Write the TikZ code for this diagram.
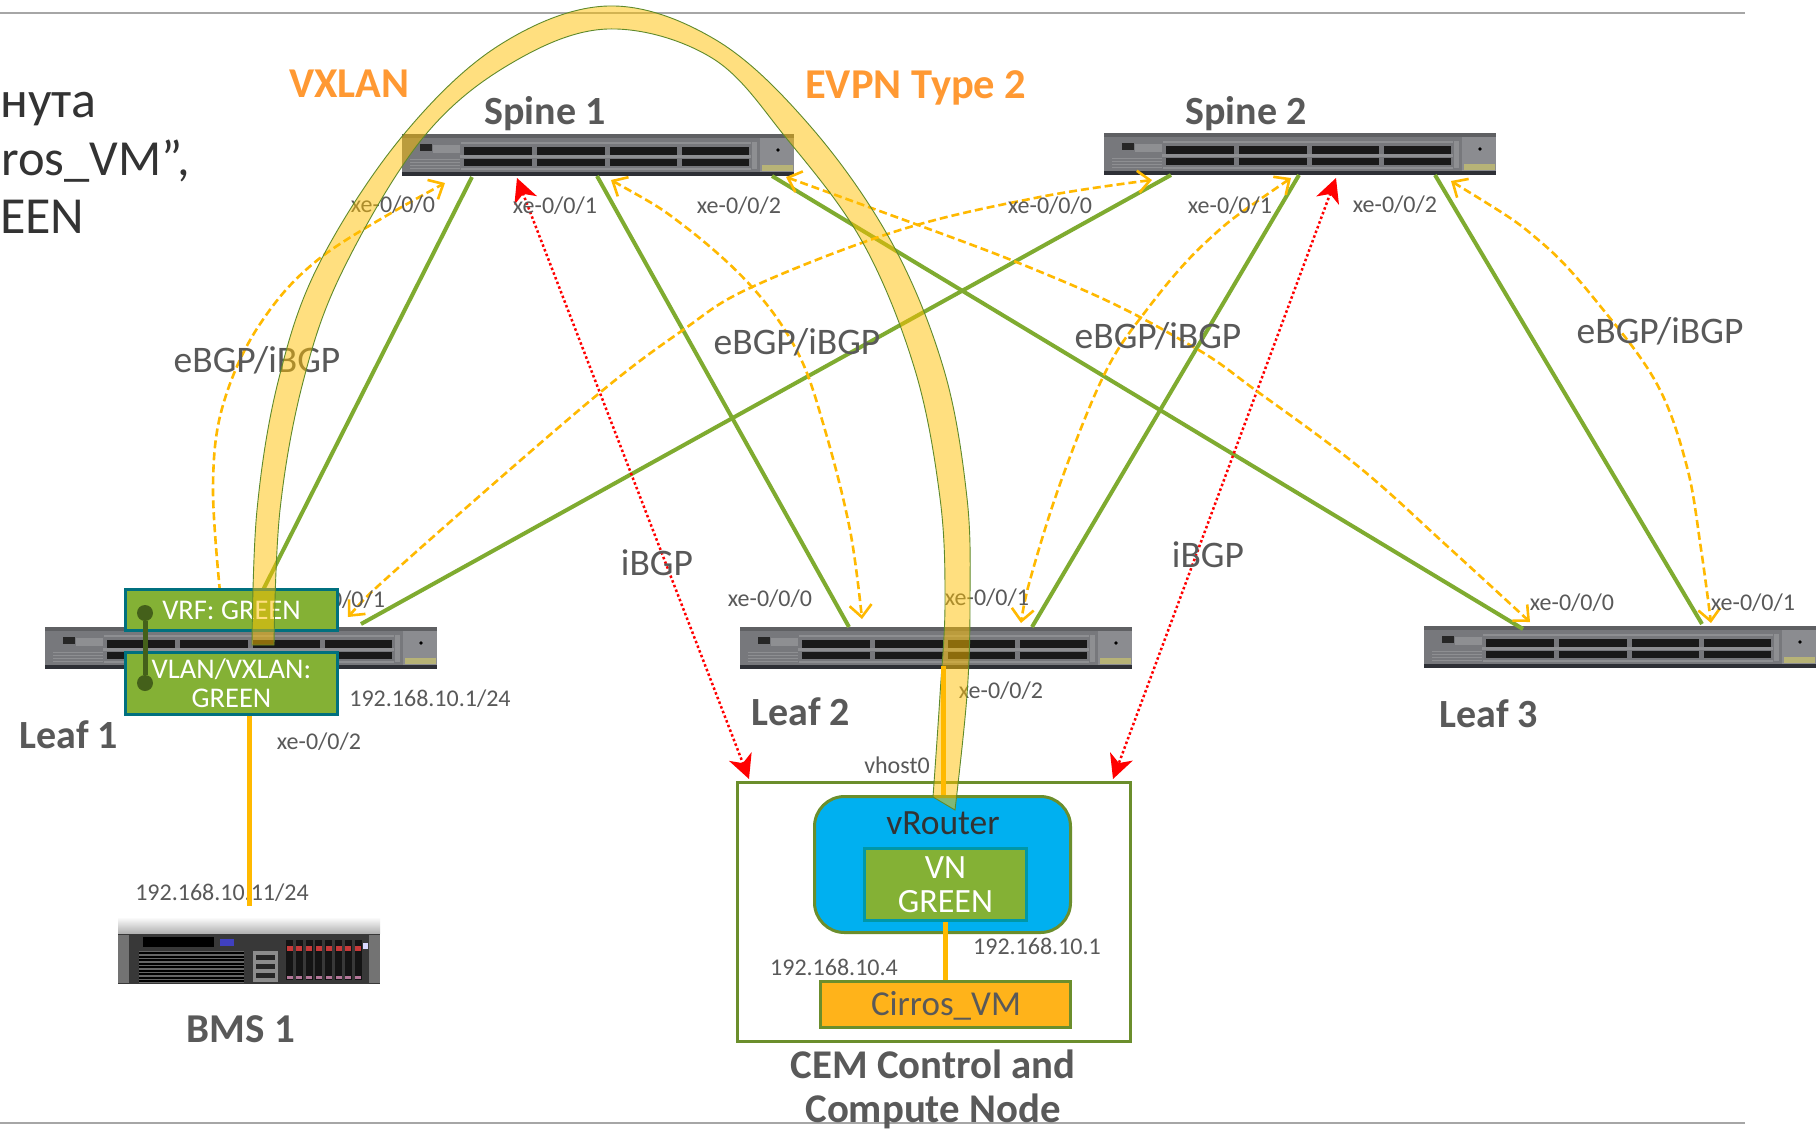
\documentclass[tikz,border=0pt]{standalone}
\usepackage{fontspec}
\setmainfont{Carlito}
\usetikzlibrary{arrows.meta,shapes.misc}
\definecolor{txtgray}{HTML}{595959}
\definecolor{txtdark}{HTML}{333333}
\definecolor{vorange}{HTML}{FF9933}
\definecolor{linkgreen}{HTML}{7FAB30}
\definecolor{boxgreen}{HTML}{84B135}
\definecolor{boxteal}{HTML}{00707F}
\definecolor{vnteal}{HTML}{0097A7}
\definecolor{olivegreen}{HTML}{6B8E2C}
\definecolor{dashgold}{HTML}{FFB900}
\definecolor{bandfill}{HTML}{FFC000}
\definecolor{bandedge}{HTML}{5F8A2B}
\definecolor{vrblue}{HTML}{00B0F0}
\definecolor{vmorange}{HTML}{FFB31A}
\definecolor{dotgreen}{HTML}{44601A}
\definecolor{swbody}{HTML}{77787C}
\definecolor{swstrip}{HTML}{8E8F92}
\definecolor{swbase}{HTML}{2E3036}
\newcommand{\swdetail}[2]{%
\begin{scope}[shift={(#1,#2)}]
 \fill[swbody!80!black] (0,0) rectangle (392,4);
 \fill[swbase] (0,38) rectangle (392,42);
 \fill[black!85] (18,10) rectangle (30,17);
 \fill[swstrip] (31,11) rectangle (58,19);
 \foreach \yy in {25,28,31,34}{\fill[swstrip] (8,\yy) rectangle (58,\yy+1.4);}
 \foreach \xa/\xb in {62/130,135/203,208/275,280/347}{
  \fill[black!90] (\xa,13) rectangle (\xb,20.5);
  \fill[black!90] (\xa,24.5) rectangle (\xb,32);
  \fill[swstrip] (\xa-4,21) rectangle (\xb+2,24);
  \fill[swstrip] (\xa-3,8) rectangle (\xb+2,10);
  \fill[swstrip] (\xa-3,33.5) rectangle (\xb+2,35.5);
 }
 \fill[swstrip] (350,8) rectangle (355,35);
 \fill[swbody!85!white] (358,4) rectangle (392,38);
 \fill[black] (376,16) circle (1.8);
 \fill[yellow!35!gray] (360,31) rectangle (391,37);
\end{scope}}
\tikzset{
 x=1pt,y=-1pt,
 switchbox/.style={anchor=north west,minimum width=392pt,minimum height=42pt,inner sep=0pt,fill=swbody},
 lab/.style={inner sep=0pt,text=txtgray,align=center,font=\fontsize{24}{28}\selectfont},
 biglab/.style={inner sep=0pt,text=txtgray,align=center,font=\fontsize{37.5}{44}\selectfont},
 titlelab/.style={inner sep=0pt,text=txtgray,align=center,font=\fontsize{40}{44}\selectfont\bfseries},
 orangelab/.style={inner sep=0pt,text=vorange,anchor=base west,font=\fontsize{42.5}{48}\selectfont\bfseries},
 headlab/.style={inner sep=0pt,text=txtdark,anchor=base west,font=\fontsize{52}{60}\selectfont},
 greenlink/.style={draw=linkgreen,line width=4pt},
 bgp/.style={draw=dashgold,line width=2.6pt,dash pattern=on 8pt off 4pt,-{Straight Barb[length=12pt,width=22pt]}},
 bgpb/.style={bgp,{Straight Barb[length=12pt,width=22pt]}-{Straight Barb[length=12pt,width=22pt]}},
 ibgp/.style={draw=red,line width=2.5pt,dash pattern=on 2.5pt off 2.5pt,
   {Stealth[length=24pt,width=24pt,inset=7pt]}-{Stealth[length=24pt,width=24pt,inset=7pt]}},
 greenbox/.style={draw=boxteal,line width=3pt,fill=boxgreen,text=white,inner sep=0pt,align=center,font=\fontsize{28.5}{29}\selectfont},
 goldlink/.style={draw=dashgold,line width=5pt},
 rule/.style={draw=gray!70,line width=1.5pt},
}
\begin{document}
\begin{tikzpicture}
\useasboundingbox (0,0) rectangle (1816,1128);
\fill[white] (0,0) rectangle (1816,1128);
\coordinate (ruleTL) at (0,13); \coordinate (ruleTR) at (1745,13);
\coordinate (ruleBL) at (0,1123); \coordinate (ruleBR) at (1745,1123);
\draw[rule] (ruleTL) -- (ruleTR);
\draw[rule] (ruleBL) -- (ruleBR);

% heading fragments
\node[headlab] (h1) at (0,117) {нута};
\node[headlab,font=\fontsize{50.5}{60}\selectfont] (h2) at (1,175) {ros\_VM”,};
\node[headlab] (h3) at (0,233) {EEN};
\node[orangelab] (vx) at (289,97) {VXLAN};
\node[orangelab] (ev) at (805,98) {EVPN Type 2};

% switches
\node[switchbox] (spine1) at (402,134) {}; \swdetail{402}{134}
\node[switchbox] (spine2) at (1104,133) {}; \swdetail{1104}{133}
\node[switchbox] (leaf1) at (45,627) {}; \swdetail{45}{627}
\node[switchbox] (leaf2) at (740,627) {}; \swdetail{740}{627}
\node[switchbox] (leaf3) at (1424,626) {}; \swdetail{1424}{626}

% server
\node[anchor=north west,minimum width=262pt,minimum height=51pt,inner sep=0pt,fill=black!78] (bms) at (118,933) {};
\begin{scope}[shift={(118,917)}]
 \shade[top color=white,bottom color=gray!60] (0,0) rectangle (262,16);
 \fill[black!55] (0,18) rectangle (11,66);
 \fill[black!55] (251,18) rectangle (262,66);
 \fill[black] (25,20) rectangle (96,30);
 \fill[black!60] (21,34) rectangle (126,66);
 \foreach \yy in {35,38.5,42,45.5,49,52.5,56,59.5,63}{\fill[black] (21,\yy) rectangle (126,\yy+2);}
 \fill[blue!50!gray] (102,22) rectangle (116,29);
 \fill[black!45] (135,34) rectangle (160,65);
 \foreach \yy in {38,47,56}{\fill[black!85] (138,\yy) rectangle (157,\yy+5);}
 \foreach \i in {0,...,7}{
  \fill[black!92] (168+\i*9.8,23) rectangle (175+\i*9.8,63);
  \fill[red!55!gray] (168.5+\i*9.8,29) rectangle (174.5+\i*9.8,34);
  \fill[magenta!35!gray] (168.5+\i*9.8,59) rectangle (174.5+\i*9.8,62);
 }
 \fill[blue!15] (245,26) rectangle (250,32);
\end{scope}

% anchor points
\coordinate (g1a) at (472,177); \coordinate (g1b) at (262,592);
\coordinate (g2a) at (597,176); \coordinate (g2b) at (849,627);
\coordinate (g3a) at (772,176); \coordinate (g3b) at (1523,629);
\coordinate (g4a) at (1171,175); \coordinate (g4b) at (361,624);
\coordinate (g5a) at (1299,175); \coordinate (g5b) at (1032,627);
\coordinate (g6a) at (1435,175); \coordinate (g6b) at (1702,624);

\draw[greenlink] (g1a) -- (g1b);
\draw[greenlink] (g2a) -- (g2b);
\draw[greenlink] (g3a) -- (g3b);
\draw[greenlink] (g4a) -- (g4b);
\draw[greenlink] (g5a) -- (g5b);
\draw[greenlink] (g6a) -- (g6b);

% iBGP sessions
\coordinate (r1a) at (517,178); \coordinate (r1b) at (749,779);
\coordinate (r2a) at (1336,178); \coordinate (r2b) at (1113,779);
\draw[ibgp] (r1a) -- (r1b);
\draw[ibgp] (r2a) -- (r2b);

% eBGP/iBGP sessions
\coordinate (d1a) at (220,592); \coordinate (d1b) at (445,183);
\coordinate (d2a) at (348,617); \coordinate (d2b) at (1152,180);
\coordinate (d3a) at (611,180); \coordinate (d3b) at (862,619);
\coordinate (d4a) at (786,177); \coordinate (d4b) at (1530,622);
\coordinate (d5a) at (1291,178); \coordinate (d5b) at (1021,623);
\coordinate (d6a) at (1451,181); \coordinate (d6b) at (1711,623);
\draw[bgp] plot[smooth,tension=.6] coordinates {(d1a) (213,486) (223,405) (260,324) (324,255) (d1b)};
\draw[bgpb] plot[smooth,tension=.6] coordinates {(d2a) (407,560) (591,400) (683,330) (752,287) (900,230) (1040,197) (d2b)};
\draw[bgpb] plot[smooth,tension=.6] coordinates {(d3a) (683,225) (752,287) (798,353) (825,430) (850,530) (d3b)};
\draw[bgpb] plot[smooth,tension=.6] coordinates {(d4a) (1060,280) (1190,345) (1258,392) (1359,467) (1446,545) (d4b)};
\draw[bgpb] plot[smooth,tension=.6] coordinates {(d5a) (1205,243) (1142,316) (1103,377) (1060,484) (1030,580) (d5b)};
\draw[bgpb] plot[smooth,tension=.6] coordinates {(d6a) (1542,243) (1605,312) (1658,386) (1687,467) (1701,549) (d6b)};

% labels
\node[titlelab] (ls1) at (545,114) {Spine 1};
\node[titlelab] (ls2) at (1246,114) {Spine 2};
\node[titlelab] (ll1) at (69,735) {Leaf 1};
\node[titlelab] (ll2) at (801,712) {Leaf 2};
\node[titlelab] (ll3) at (1489,714) {Leaf 3};
\node[titlelab,font=\fontsize{41}{44}\selectfont\bfseries] (lbms) at (241,1029) {BMS 1};
\node[titlelab,font=\fontsize{40.8}{44}\selectfont\bfseries] (lcem) at (933,1089) {CEM Control and\\Compute Node};
\foreach \nm/\px/\py/\tx in {
 a/393/205/xe-0\slash 0\slash 0, b/555/206/xe-0\slash 0\slash 1, c/739/206/xe-0\slash 0\slash 2,
 d/1050/206/xe-0\slash 0\slash 0, e/1230/206/xe-0\slash 0\slash 1, f/1395/205/xe-0\slash 0\slash 2,
 g/343/600/xe-0\slash 0\slash 1, h/319/742/xe-0\slash 0\slash 2,
 i/770/599/xe-0\slash 0\slash 0, j/987/598/xe-0\slash 0\slash 1, k/1001/691/xe-0\slash 0\slash 2,
 l/1572/603/xe-0\slash 0\slash 0, m/1753/603/xe-0\slash 0\slash 1,
 n/430/699/192.168.10.1\slash 24, o/222/893/192.168.10.11\slash 24,
 p/897/765/vhost0, q/1037/946/192.168.10.1, r/834/967/192.168.10.4}
 {\node[lab] (t\nm) at (\px,\py) {\tx};}
\foreach \nm/\px/\py in {a/257/360,b/797/342,c/1158/336,d/1660/331}
 {\node[biglab] (e\nm) at (\px,\py) {eBGP/iBGP};}
\node[biglab] (ib1) at (657,563) {iBGP};
\node[biglab] (ib2) at (1208,555) {iBGP};

% compute node
\node[anchor=north west,draw=olivegreen,line width=3pt,minimum width=393pt,minimum height=259pt,inner sep=0pt] (cem) at (736,781) {};
\node[anchor=north west,draw=olivegreen,line width=3pt,fill=vrblue,rounded corners=30pt,minimum width=256pt,minimum height=136pt,inner sep=0pt] (vr) at (813,795) {};
\node[inner sep=0pt,text=txtdark,font=\fontsize{35.5}{40}\selectfont] (vrt) at (943,823) {vRouter};
\node[greenbox,draw=vnteal,anchor=north west,minimum width=162pt,minimum height=72pt,font=\fontsize{34}{34}\selectfont] (vn) at (863,847) {VN\\GREEN};
\node[anchor=north west,draw=olivegreen,line width=3pt,fill=vmorange,minimum width=250pt,minimum height=46pt,inner sep=0pt] (vm) at (819,980) {};
\node[inner sep=0pt,text=txtgray,font=\fontsize{35}{40}\selectfont] (vmt) at (946,1006) {Cirros\_VM};
\draw[goldlink] (vn.south) -- (vm.north);

% leaf 1 boxes
\node[greenbox,anchor=north west,minimum width=212pt,minimum height=41pt] (vrf) at (124,588) {\raisebox{-1pt}{VRF: GREEN}};
\node[greenbox,anchor=north west,minimum width=212pt,minimum height=62pt] (vlan) at (124,651) {VLAN/VXLAN:\\GREEN};
\node[circle,fill=dotgreen,minimum size=16pt,inner sep=0pt] (dot1) at (145,613) {};
\node[circle,fill=dotgreen,minimum size=16pt,inner sep=0pt] (dot2) at (145,683) {};
\draw[dotgreen,line width=5pt] (dot1) -- (dot2);

% tunnel band
\path[fill=bandfill,fill opacity=.5,draw=bandedge,line width=.9pt]
 plot[smooth,tension=.6] coordinates {(252,645) (257,510) (278,382) (318,266) (400,139) (498,46) (608,6) (716,40) (811,127) (892,243) (944,370) (967,498) (970,602) (967,695) (955,810)}
 -- plot[smooth,tension=.6] coordinates {(933,797) (940,695) (945,602) (940,498) (915,370) (863,243) (787,139) (712,58) (608,29) (510,64) (422,139) (342,272) (303,382) (280,510) (274,645)}
 -- cycle;

% gold links
\coordinate (bmsup) at (249,906);
\coordinate (lf2low) at (943,666);
\draw[goldlink] (vlan.south -| bmsup) -- (bmsup);
\draw[goldlink] (lf2low) -- (lf2low |- vr.north);
\end{tikzpicture}
\end{document}
